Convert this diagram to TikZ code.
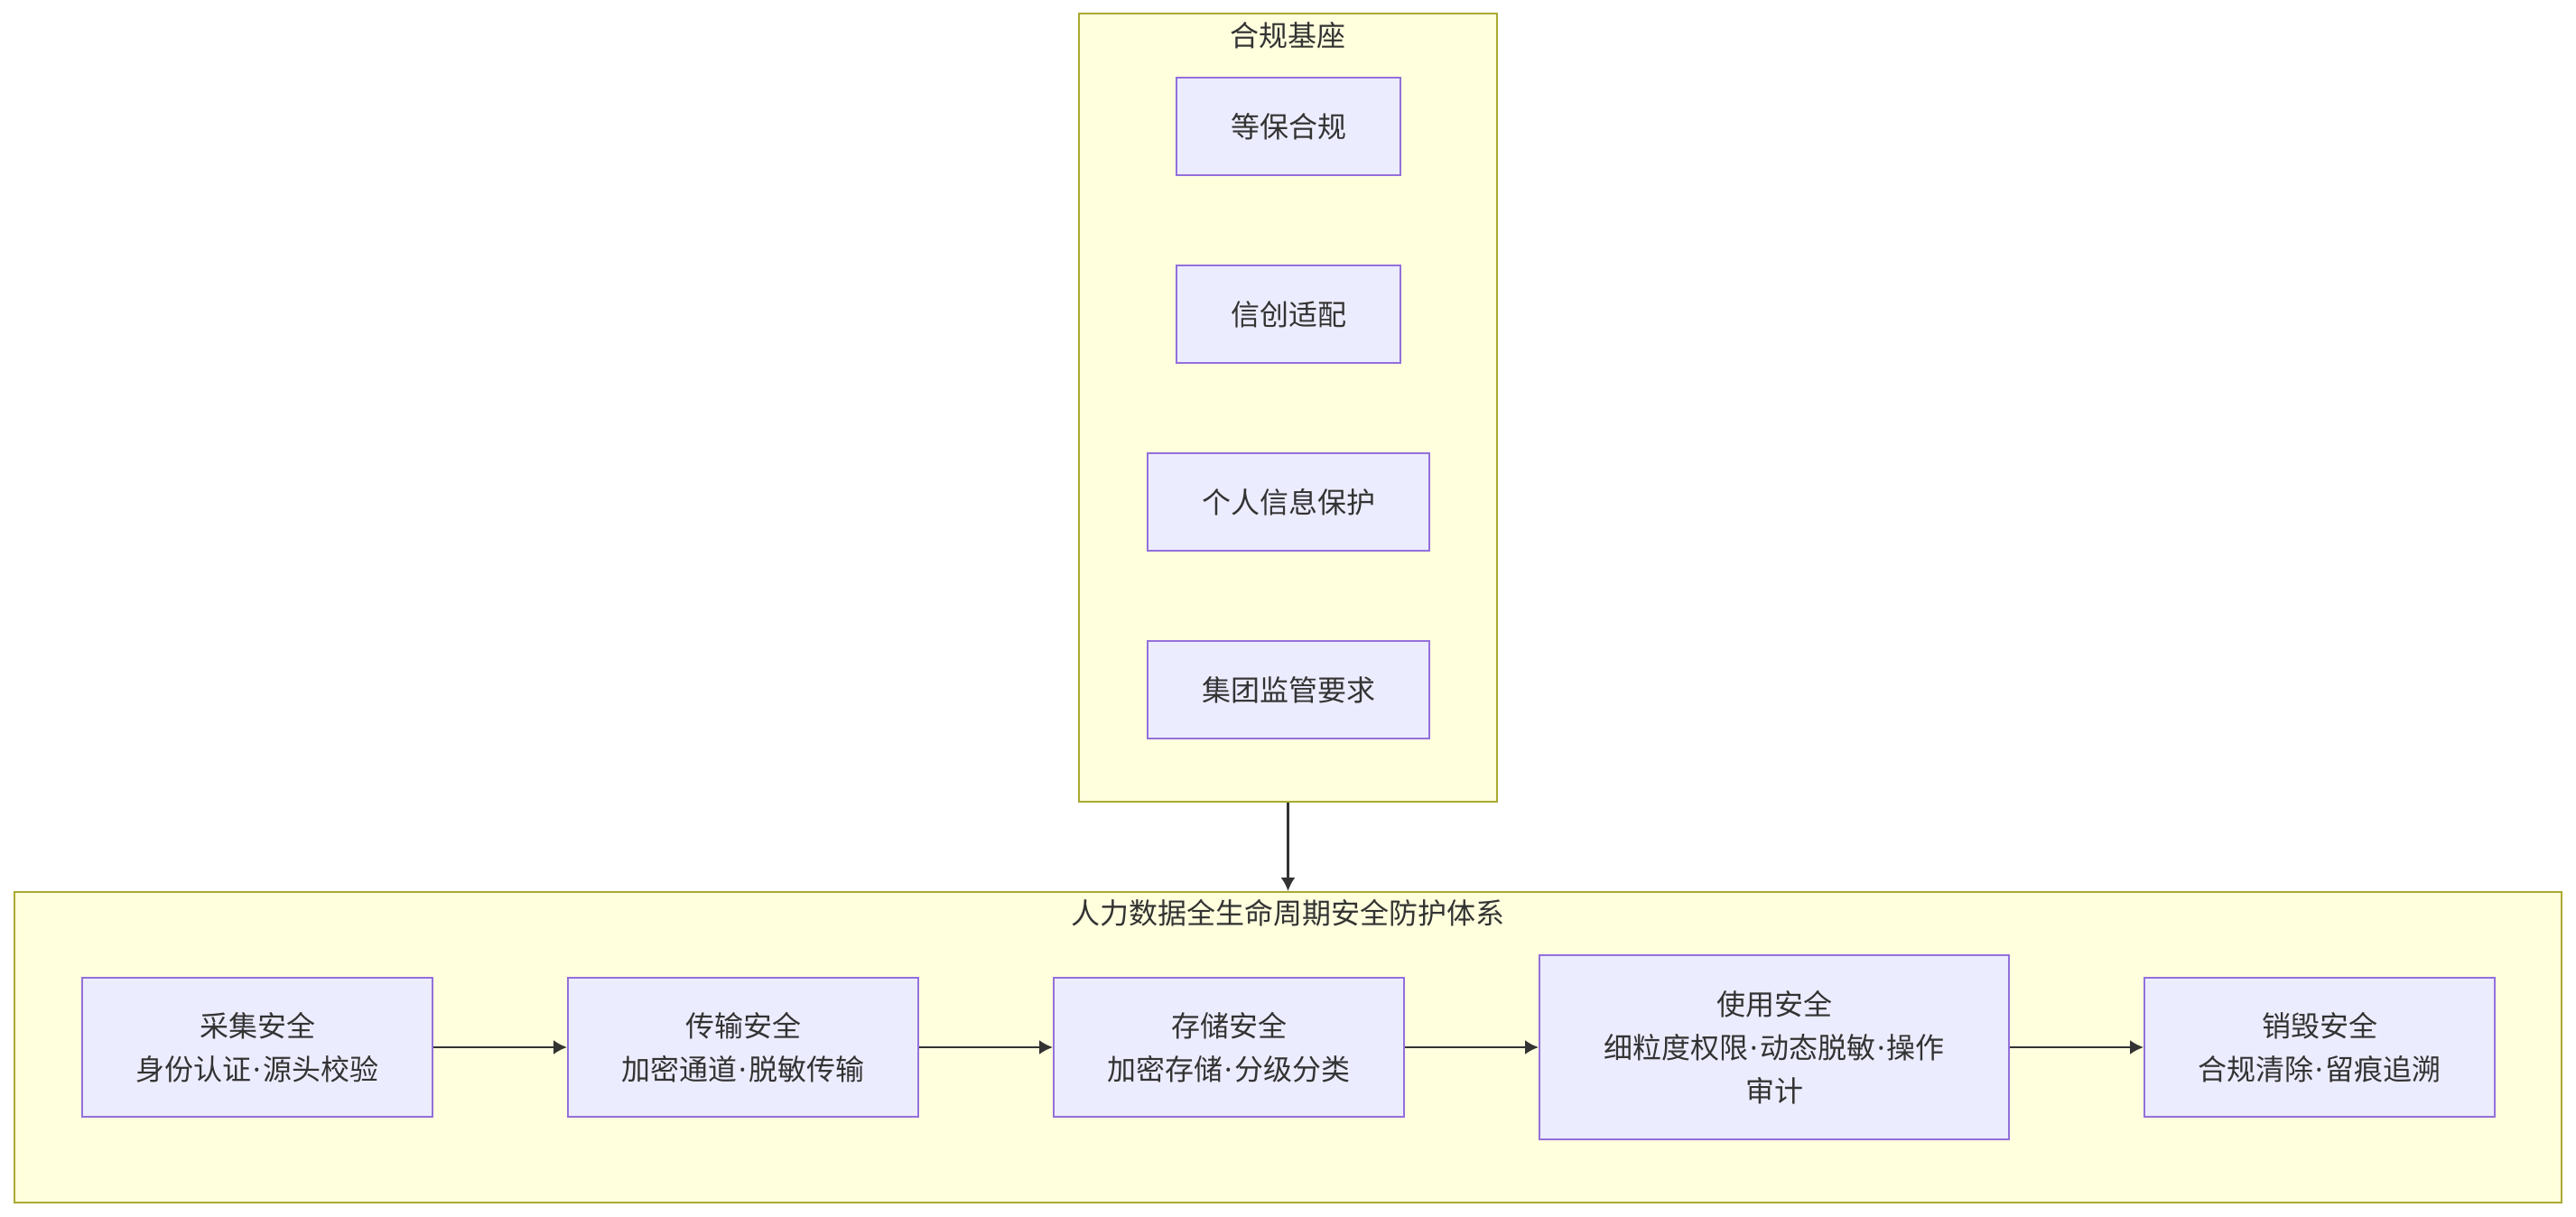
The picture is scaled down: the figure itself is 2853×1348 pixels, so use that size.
\documentclass[tikz,border=0pt]{standalone}
\usepackage{fontspec}
\setmainfont{Noto Sans CJK SC}
\newfontfamily\latinfont{Noto Sans}
\newcommand\mdot{{\latinfont\kern1pt·\kern1pt}}
\usetikzlibrary{arrows.meta,positioning}
\definecolor{Ink}{HTML}{333333}
\definecolor{Lilac}{HTML}{9370DB}
\definecolor{LilacLight}{HTML}{ECECFF}
\definecolor{Olive}{HTML}{AAAA33}
\definecolor{Cream}{HTML}{FFFFDE}
\tikzset{cluster/.style={draw=Olive,fill=Cream,line width=1pt,inner sep=0pt},title/.style={text=Ink,font=\fontsize{16pt}{24pt}\selectfont,inner sep=0pt},stage/.style={draw=Lilac,fill=LilacLight,line width=1pt,text=Ink,align=center,inner xsep=30pt,inner ysep=0pt,font=\fontsize{16pt}{24pt}\selectfont},flow/.style={-{Latex[length=7.5pt,width=8pt]},line width=1.2pt,draw=Ink}}

\begin{document}
\begin{tikzpicture}[x=0.5pt,y=-0.5pt]
      \useasboundingbox (0,0) rectangle (2853,1348);
      % clusters
      \node[cluster,minimum width=231.5pt,minimum height=436.5pt](base) at (1426.5,451.5){};
      \node[title](baseT) at ([yshift=-12.5pt]base.north){合规基座};
      \node[cluster,minimum width=1410.5pt,minimum height=172pt](life) at (1426.5,1160){};
      \node[title](lifeT) at ([yshift=-12pt]life.north){人力数据全生命周期安全防护体系};
      % compliance base
      \node[stage,minimum height=54pt](mlps) at (1427,140){等保合规};
      \node[stage,minimum height=54pt,below=49pt of mlps](xc){信创适配};
      \node[stage,minimum height=54pt,below=49pt of xc](pip){个人信息保护};
      \node[stage,minimum height=54pt,below=49pt of pip](group){集团监管要求};
      % lifecycle
      \node[stage,inner xsep=20pt,minimum width=194pt,minimum height=77pt](collect) at (285,1160){采集安全\\身份认证\mdot 源头校验};
      \node[stage,inner xsep=20pt,minimum width=194pt,minimum height=77pt,right=74pt of collect](trans){传输安全\\加密通道\mdot 脱敏传输};
      \node[stage,inner xsep=20pt,minimum width=194pt,minimum height=77pt,right=74pt of trans](store){存储安全\\加密存储\mdot 分级分类};
      \node[stage,inner xsep=20pt,minimum width=260pt,minimum height=102pt,right=74pt of store](use){使用安全\\细粒度权限\mdot 动态脱敏\mdot 操作\\审计};
      \node[stage,inner xsep=20pt,minimum width=194pt,minimum height=77pt,right=74pt of use](destroy){销毁安全\\合规清除\mdot 留痕追溯};
      \draw[flow](base)--(life);
      \draw[flow](collect)--(trans);\draw[flow](trans)--(store);\draw[flow](store)--(use);\draw[flow](use)--(destroy);
    \end{tikzpicture}
\end{document}
